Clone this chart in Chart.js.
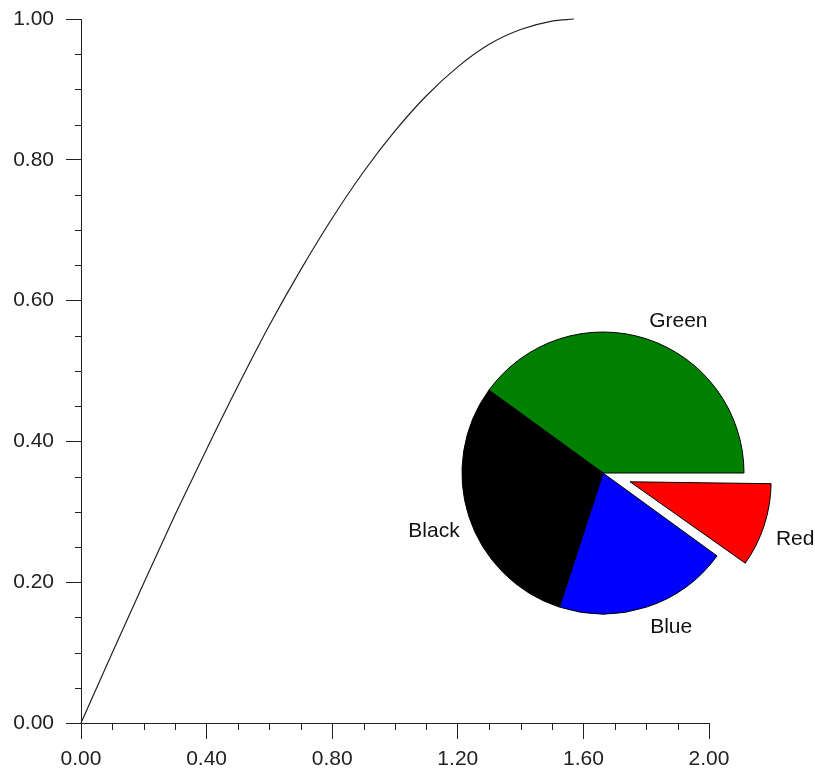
<!DOCTYPE html>
<html>
<head>
<meta charset="utf-8">
<script src="https://cdn.jsdelivr.net/npm/chart.js@4/dist/chart.umd.min.js"></script>
<style>
  html, body { margin: 0; padding: 0; background: #fff; overflow: hidden; }
  #wrap { position: relative; width: 815px; height: 773px; }
  #wrap canvas { position: absolute; left: 0; top: 0; }
</style>
</head>
<body>
<div id="wrap">
  <canvas id="lineChart" width="815" height="773"></canvas>
  <canvas id="pieChart" width="815" height="773"></canvas>
</div>
<script>
// curve
const X_VALUES = [0, 0.1, 0.2, 0.3, 0.4, 0.5, 0.6, 0.7, 0.8, 0.9, 1.0, 1.1, 1.2, 1.3, 1.4, 1.5, 1.57];
const Y_VALUES = [0, 0.100, 0.199, 0.296, 0.389, 0.479, 0.565, 0.644, 0.717, 0.783, 0.841, 0.891, 0.932, 0.964, 0.985, 0.997, 1.000];

// axis ranges / ticks
const X_MIN = 0, X_MAX = 2, X_STEP = 0.4, X_MINOR = 0.1;
const Y_MIN = 0, Y_MAX = 1, Y_STEP = 0.2, Y_MINOR = 0.05;

// pie (clockwise from the green slice)
const PIE_LABELS = ['Green', 'Red', 'Blue', 'Black'];
const PIE_VALUES = [40, 10, 20, 30];
const PIE_COLORS = ['#008000', '#ff0000', '#0000ff', '#000000'];
const EXPLODED = 'Red';

const FONT = "'Liberation Sans', Arial, sans-serif";
const INK = '#222';

const minorTicks = {
  id: 'minorTicks',
  afterDraw(chart) {
    const {ctx, scales: {x, y}} = chart;
    ctx.save();
    ctx.strokeStyle = INK;
    ctx.lineWidth = 1;
    ctx.beginPath();
    const nx = Math.round((X_MAX - X_MIN) / X_MINOR);
    for (let i = 1; i < nx; i++) {
      if (i % Math.round(X_STEP / X_MINOR) === 0) continue;
      const px = Math.round(x.getPixelForValue(X_MIN + i * X_MINOR)) + 0.5;
      ctx.moveTo(px, y.bottom);
      ctx.lineTo(px, y.bottom + 7);
    }
    const ny = Math.round((Y_MAX - Y_MIN) / Y_MINOR);
    for (let i = 1; i < ny; i++) {
      if (i % Math.round(Y_STEP / Y_MINOR) === 0) continue;
      const py = Math.round(y.getPixelForValue(Y_MIN + i * Y_MINOR)) + 0.5;
      ctx.moveTo(x.left - 6, py);
      ctx.lineTo(x.left, py);
    }
    ctx.stroke();
    ctx.restore();
  }
};

new Chart(document.getElementById('lineChart'), {
  type: 'line',
  data: {
    datasets: [{
      data: X_VALUES.map((x, i) => ({x: x, y: Y_VALUES[i]})),
      borderColor: '#222',
      borderWidth: 1.2,
      pointRadius: 0,
      fill: false,
      clip: 4,
      cubicInterpolationMode: 'monotone'
    }]
  },
  options: {
    responsive: false,
    animation: false,
    layout: {autoPadding: false, padding: {left: 0, right: 106, top: 19, bottom: 0}},
    plugins: {legend: {display: false}, tooltip: {enabled: false}},
    scales: {
      x: {
        type: 'linear', min: X_MIN, max: X_MAX,
        afterFit: (s) => {
          s.height = 50;
          s.paddingLeft = 0; s.paddingRight = 0; s.paddingTop = 0; s.paddingBottom = 0;
        },
        ticks: {
          stepSize: X_STEP, autoSkip: false, maxRotation: 0, padding: 8,
          color: INK, font: {family: FONT, size: 21},
          callback: (v) => v.toFixed(2)
        },
        grid: {drawOnChartArea: false, tickLength: 16, tickColor: INK, tickWidth: 1},
        border: {color: INK, width: 1}
      },
      y: {
        min: Y_MIN, max: Y_MAX,
        afterFit: (s) => {
          s.width = 81;
          s.paddingLeft = 0; s.paddingRight = 0; s.paddingTop = 0; s.paddingBottom = 0;
        },
        ticks: {
          stepSize: Y_STEP, autoSkip: false, padding: 12,
          color: INK, font: {family: FONT, size: 21},
          callback: (v) => v.toFixed(2)
        },
        grid: {drawOnChartArea: false, tickLength: 15, tickColor: INK, tickWidth: 1},
        border: {color: INK, width: 1}
      }
    }
  },
  plugins: [minorTicks]
});

// keep the exploded slice the same radius as the others
const explodeFix = {
  id: 'explodeFix',
  beforeDatasetsDraw(chart) {
    const meta = chart.getDatasetMeta(0);
    const base = meta.controller.outerRadius;
    meta.data.forEach((arc) => {
      const shift = (arc.options.offset || 0) / 4;
      const circ = arc.endAngle - arc.startAngle;
      const fix = 1 - Math.sin(Math.min(Math.PI, circ));
      arc.outerRadius = base - shift * fix;
    });
  }
};

const pieLabels = {
  id: 'pieLabels',
  afterDatasetsDraw(chart) {
    const ctx = chart.ctx;
    const meta = chart.getDatasetMeta(0);
    const base = meta.controller.outerRadius;
    ctx.save();
    ctx.font = '21px ' + FONT;
    ctx.fillStyle = '#111';
    ctx.textAlign = 'center';
    ctx.textBaseline = 'middle';
    meta.data.forEach((arc, i) => {
      const mid = (arc.startAngle + arc.endAngle) / 2;
      const dx = Math.cos(mid), dy = Math.sin(mid);
      const shift = (arc.options.offset || 0) / 4;
      const r = base + 20 + shift;
      const px = arc.x + dx * r, py = arc.y + dy * r;
      const label = chart.data.labels[i];
      const w = ctx.measureText(label).width, h = 16;
      ctx.fillText(label,
        px + Math.sign(dx) * w / 2 * (1 - 0.4 * Math.abs(dx)),
        py + (h / 2 + 1) * dx * dx);
    });
    ctx.restore();
  }
};

new Chart(document.getElementById('pieChart'), {
  type: 'pie',
  data: {
    labels: PIE_LABELS,
    datasets: [{
      data: PIE_VALUES,
      backgroundColor: PIE_COLORS,
      borderColor: '#000',
      borderWidth: 1,
      offset: (c) => PIE_LABELS[c.dataIndex] === EXPLODED ? 114 : 0
    }]
  },
  options: {
    responsive: false,
    animation: false,
    rotation: -54,
    radius: 141,
    layout: {padding: {left: 461, right: 70, top: 331, bottom: 158}},
    plugins: {legend: {display: false}, tooltip: {enabled: false}},
    events: []
  },
  plugins: [explodeFix, pieLabels]
});
</script>
</body>
</html>
